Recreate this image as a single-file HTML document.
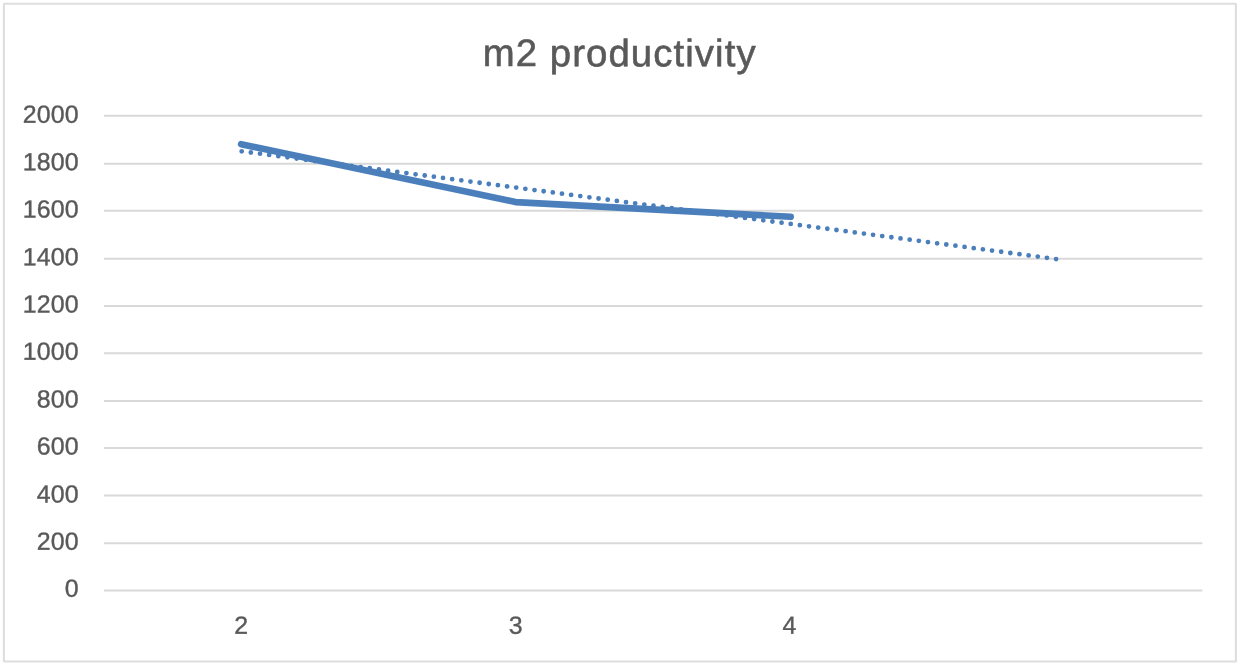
<!DOCTYPE html>
<html lang="en">
<head>
<meta charset="utf-8">
<title>m2 productivity</title>
<style>
  html, body { margin: 0; padding: 0; background: #ffffff; }
  body { width: 1240px; height: 667px; overflow: hidden; position: relative;
         font-family: "Liberation Sans", sans-serif; }
  svg { position: absolute; left: 0; top: 0; display: block; }
  text { font-family: "Liberation Sans", sans-serif; fill: #595959; stroke: #595959; stroke-width: 0.4px; stroke-linejoin: round; text-rendering: geometricPrecision; }
  .title { font-size: 38.3px; letter-spacing: 1.1px; stroke-width: 0.6px; }
  .ylab { font-size: 24.9px; letter-spacing: 0.2px; stroke-width: 0.6px; text-anchor: end; }
  .xlab { font-size: 24.9px; stroke-width: 0.6px; text-anchor: middle; }
  .grid line { stroke: #d9d9d9; stroke-width: 2; }
</style>
</head>
<body>
<svg width="1240" height="667" viewBox="0 0 1240 667">
  <rect x="0" y="0" width="1240" height="667" fill="#ffffff"/>
  <!-- chart frame -->
  <rect x="3.9" y="3.8" width="1232" height="657.7" rx="0.5" ry="0.5" fill="#ffffff" stroke="#dedede" stroke-width="2.1"/>

  <!-- horizontal gridlines -->
  <g class="grid">
    <line x1="104" x2="1202.4" y1="115.85" y2="115.85"/>
    <line x1="104" x2="1202.4" y1="163.7" y2="163.7"/>
    <line x1="104" x2="1202.4" y1="210.85" y2="210.85"/>
    <line x1="104" x2="1202.4" y1="258.8" y2="258.8"/>
    <line x1="104" x2="1202.4" y1="306.0" y2="306.0"/>
    <line x1="104" x2="1202.4" y1="353.2" y2="353.2"/>
    <line x1="104" x2="1202.4" y1="400.9" y2="400.9"/>
    <line x1="104" x2="1202.4" y1="448.1" y2="448.1"/>
    <line x1="104" x2="1202.4" y1="495.5" y2="495.5"/>
    <line x1="104" x2="1202.4" y1="543.3" y2="543.3"/>
    <line x1="104" x2="1202.4" y1="590.5" y2="590.5"/>
  </g>

  <!-- linear trendline (dotted) -->
  <line x1="241.7" y1="151.3" x2="1056.6" y2="259.1" stroke="#4b7fbc" stroke-width="4.8"
        stroke-linecap="round" stroke-dasharray="0 9.23"/>

  <!-- data series -->
  <polyline points="241.1,144.2 515.6,202.1 790.7,216.8" fill="none" stroke="#4b7fbc"
            stroke-width="6.6" stroke-linecap="round" stroke-linejoin="round"/>

  <!-- title -->
  <text class="title" x="619.7" y="66.2" text-anchor="middle" transform="rotate(0.05 619.7 66.2)">m2 productivity</text>

  <!-- value axis labels -->
  <g class="ylab">
    <text x="78.9" y="122.7" transform="rotate(0.05 52 122.7)">2000</text>
    <text x="78.9" y="170.25" transform="rotate(0.05 52 170.25)">1800</text>
    <text x="78.9" y="217.5" transform="rotate(0.05 52 217.5)">1600</text>
    <text x="78.9" y="265.25" transform="rotate(0.05 52 265.25)">1400</text>
    <text x="78.9" y="312.5" transform="rotate(0.05 52 312.5)">1200</text>
    <text x="78.9" y="359.75" transform="rotate(0.05 52 359.75)">1000</text>
    <text x="78.9" y="407.5" transform="rotate(0.05 52 407.5)">800</text>
    <text x="78.9" y="454.5" transform="rotate(0.05 52 454.5)">600</text>
    <text x="78.9" y="502.5" transform="rotate(0.05 52 502.5)">400</text>
    <text x="78.9" y="549.75" transform="rotate(0.05 52 549.75)">200</text>
    <text x="78.9" y="596.75" transform="rotate(0.05 52 596.75)">0</text>
  </g>

  <!-- category axis labels -->
  <g class="xlab">
    <text x="241.1" y="633.75" transform="rotate(0.05 241.1 633.75)">2</text>
    <text x="515.6" y="633.75" transform="rotate(0.05 515.6 633.75)">3</text>
    <text x="789.4" y="633.75" transform="rotate(0.05 789.4 633.75)">4</text>
  </g>
</svg>
</body>
</html>
